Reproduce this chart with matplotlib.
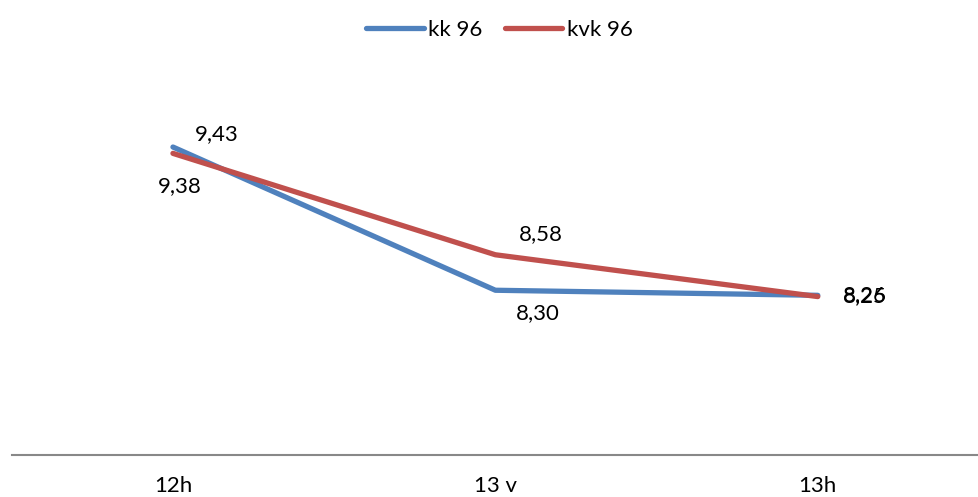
import matplotlib.pyplot as plt

# data
categories = ['12h', '13 v', '13h']
kk96 = [9.43, 8.30, 8.26]
kvk96 = [9.38, 8.58, 8.25]

plt.rcParams['font.family'] = ['Lato', 'DejaVu Sans']

fig = plt.figure(figsize=(9.79, 4.97), dpi=100)
ax = fig.add_axes([0.012, 0.0845, 0.988, 0.765])

x = range(len(categories))
ax.plot(x, kk96, color='#4F81BD', lw=3.8, label='kk 96', solid_capstyle='round')
ax.plot(x, kvk96, color='#C0504D', lw=3.8, label='kvk 96', solid_capstyle='round')

def fmt(v):
    return f'{v:.2f}'.replace('.', ',')

# data labels (offsets in points)
kk_off = [(16, 2, 'left', 'bottom'), (15, -9, 'left', 'top'), (18, 0, 'left', 'center')]
kvk_off = [(-11, -16, 'left', 'top'), (17, 8, 'left', 'bottom'), (18, 0, 'left', 'center')]
for i, v in enumerate(kk96):
    dx, dy, ha, va = kk_off[i]
    ax.annotate(fmt(v), (i, v), xytext=(dx, dy), textcoords='offset points',
                ha=ha, va=va, fontsize=16)
for i, v in enumerate(kvk96):
    dx, dy, ha, va = kvk_off[i]
    ax.annotate(fmt(v), (i, v), xytext=(dx, dy), textcoords='offset points',
                ha=ha, va=va, fontsize=16)

ax.set_xlim(-0.5, 2.5)
ax.set_ylim(7, 10)
ax.set_xticks(list(x))
ax.set_xticklabels(categories, fontsize=16)
ax.tick_params(axis='x', length=0, pad=15)
ax.set_yticks([])
for s in ['top', 'right', 'left']:
    ax.spines[s].set_visible(False)
ax.spines['bottom'].set_color('#888888')
ax.spines['bottom'].set_linewidth(1.5)

fig.legend(loc='upper center', bbox_to_anchor=(0.51, 1.0), ncol=2, frameon=False,
           fontsize=16, handlelength=2.6, handletextpad=0.2, columnspacing=1.0)

fig.savefig('out.png', dpi=100)
